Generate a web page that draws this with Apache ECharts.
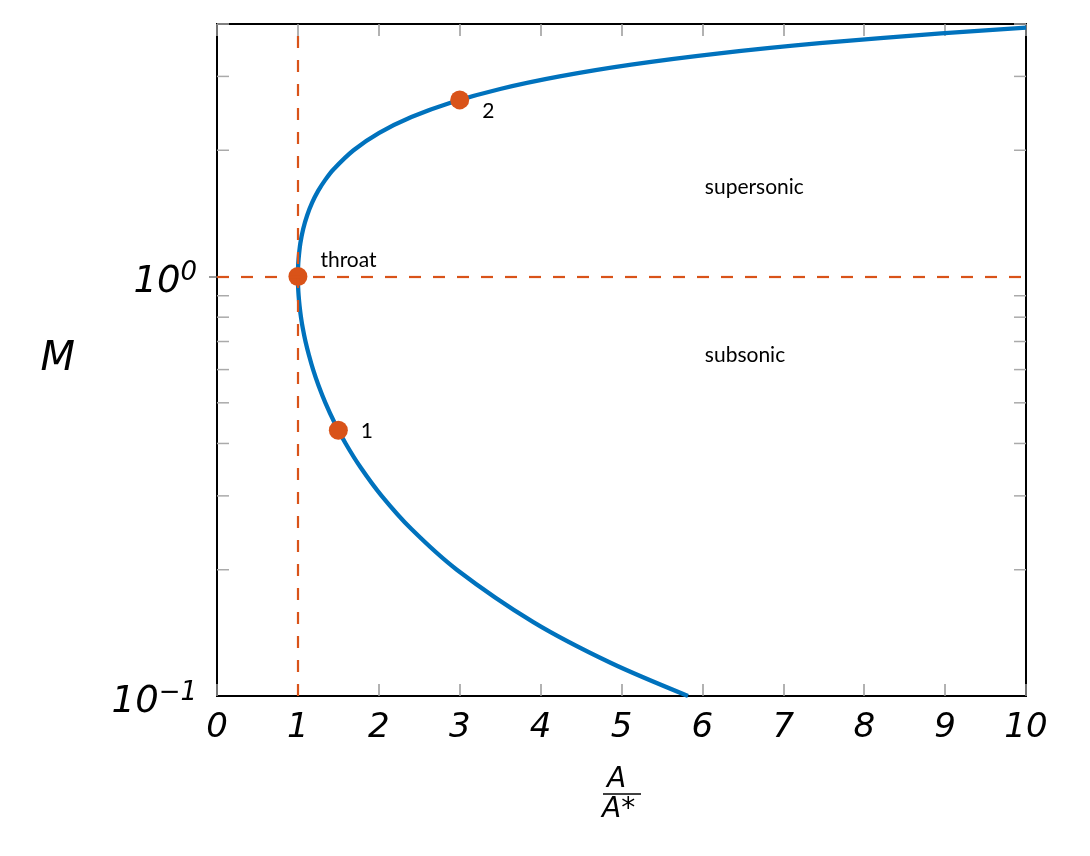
<!DOCTYPE html>
<html>
<head>
    <meta charset="UTF-8">
    <title>Area-Mach relation</title>
    <script src="https://cdn.jsdelivr.net/npm/echarts@6/dist/echarts.min.js"></script>
</head>
<body style="margin: 0; padding: 0;">
    <div id="container" style="width: 1090px; height: 856px;"></div>
    <script>
        // area ratio A/A* against Mach number (subsonic end -> throat -> supersonic end)
        var areaRatio = [5.822, 4.864, 3.910, 2.964, 2.403, 2.035, 1.778, 1.590, 1.449, 1.340,
            1.255, 1.188, 1.136, 1.094, 1.062, 1.038, 1.021, 1.009, 1.002, 1.000,
            1.002, 1.008, 1.030, 1.066, 1.115, 1.176, 1.250, 1.338, 1.439, 1.688,
            2.005, 2.403, 2.896, 3.500, 4.235, 5.121, 6.184, 7.450, 8.951, 10.0];
        var mach = [0.10, 0.12, 0.15, 0.20, 0.25, 0.30, 0.35, 0.40, 0.45, 0.50,
            0.55, 0.60, 0.65, 0.70, 0.75, 0.80, 0.85, 0.90, 0.95, 1.00,
            1.05, 1.10, 1.20, 1.30, 1.40, 1.50, 1.60, 1.70, 1.80, 2.00,
            2.20, 2.40, 2.60, 2.80, 3.00, 3.20, 3.40, 3.60, 3.80, 3.92];

        // marked states
        var pointNames = ['throat', '1', '2'];
        var pointX = [1, 1.5, 3];
        var pointY = [1, 0.43, 2.637];

        // region labels
        var regionNames = ['supersonic', 'subsonic'];
        var regionX = [6.03, 6.03];
        var regionY = [1.63, 0.651];

        var xTicks = [0, 1, 2, 3, 4, 5, 6, 7, 8, 9, 10];
        var yMajorTicks = [0.1, 1];
        var yMinorTicks = [0.2, 0.3, 0.4, 0.5, 0.6, 0.7, 0.8, 0.9, 2, 3, 4];

        var orange = '#D95319';
        var blue = '#0072BD';
        var tickFont = 'DejaVu Sans';

        var chart = echarts.init(document.getElementById('container'), null, { renderer: 'canvas' });

        var option = {
            backgroundColor: '#fff',
            animation: false,
            grid: {
                left: 217, top: 24, width: 809, height: 672,
                show: true, borderColor: '#000', borderWidth: 2, backgroundColor: 'transparent'
            },
            xAxis: [{
                type: 'value', min: xTicks[0], max: xTicks[xTicks.length - 1], interval: 1,
                axisLine: { show: false },
                splitLine: { show: false },
                axisTick: { inside: true, length: 12, lineStyle: { color: '#999', width: 1.5 } },
                axisLabel: {
                    margin: 15, fontSize: 34, fontStyle: 'italic', fontFamily: tickFont, color: '#000'
                }
            }, {
                type: 'value', position: 'top', min: xTicks[0], max: xTicks[xTicks.length - 1], interval: 1,
                axisLine: { show: false },
                splitLine: { show: false },
                axisTick: { inside: true, length: 12, lineStyle: { color: '#999', width: 1.5 } },
                axisLabel: { show: false }
            }],
            yAxis: [{
                type: 'log', logBase: 10, min: 0.1, max: 4,
                name: 'M', nameLocation: 'middle', nameRotate: 0, nameGap: 142,
                nameTextStyle: { fontSize: 40, fontStyle: 'italic', fontFamily: tickFont, color: '#000', padding: [12, 0, 0, 0] },
                axisLine: { show: false },
                splitLine: { show: false },
                minorTick: { show: false },
                axisTick: { inside: true, length: 8, customValues: [1], lineStyle: { color: '#777', width: 1.5 } },
                axisLabel: {
                    margin: 20, color: '#000',
                    padding: [12, 0, 0, 0],
                    customValues: yMajorTicks,
                    formatter: function (v) {
                        var p = Math.round(Math.log10(v));
                        return '{b|10}{s|' + (p < 0 ? '\u2212' + (-p) : p) + '}';
                    },
                    rich: {
                        b: { fontSize: 37, fontStyle: 'italic', fontFamily: tickFont, color: '#000', lineHeight: 44 },
                        s: { fontSize: 26, fontStyle: 'italic', fontFamily: tickFont, color: '#000', lineHeight: 26, verticalAlign: 'top' }
                    }
                }
            }, {
                type: 'log', logBase: 10, min: 0.1, max: 4, position: 'right',
                axisLine: { show: false },
                splitLine: { show: false },
                axisTick: { inside: true, length: 8, customValues: [1], lineStyle: { color: '#777', width: 1.5 } },
                axisLabel: { show: false }
            }],
            graphic: [
                { type: 'text', left: 607, top: 766, style: { text: 'A', fontSize: 28, fontStyle: 'italic', fontFamily: tickFont, fill: '#000' } },
                { type: 'line', shape: { x1: 603, y1: 794, x2: 641, y2: 794 }, style: { stroke: '#000', lineWidth: 1.5 } },
                { type: 'text', left: 602, top: 796, style: { text: 'A*', fontSize: 28, fontStyle: 'italic', fontFamily: tickFont, fill: '#000' } }
            ],
            series: [{
                // minor ticks of the log axis, on both sides of the box
                type: 'custom',
                silent: true,
                z: 1,
                data: yMinorTicks.map(function (v) { return [0, v]; }),
                renderItem: function (params, api) {
                    var y = api.coord([0, api.value(1)])[1];
                    var cs = params.coordSys;
                    var st = { stroke: '#aaa', lineWidth: 1.5 };
                    return {
                        type: 'group',
                        children: [
                            { type: 'line', shape: { x1: cs.x, y1: y, x2: cs.x + 12, y2: y }, style: st },
                            { type: 'line', shape: { x1: cs.x + cs.width - 12, y1: y, x2: cs.x + cs.width, y2: y }, style: st }
                        ]
                    };
                }
            }, {
                // throat guides
                type: 'line',
                data: [],
                z: 2,
                markLine: {
                    silent: true,
                    symbol: 'none',
                    label: { show: false },
                    lineStyle: { color: orange, type: [12, 12], width: 2.2, opacity: 1 },
                    data: [{ xAxis: 1 }, { yAxis: 1 }]
                }
            }, {
                type: 'line',
                name: 'M',
                data: areaRatio.map(function (a, i) { return [a, mach[i]]; }),
                showSymbol: false,
                smooth: 0.3,
                clip: true,
                z: 3,
                lineStyle: { color: blue, width: 4.3 }
            }, {
                type: 'scatter',
                z: 4,
                symbolSize: 19,
                itemStyle: { color: orange, opacity: 1 },
                data: pointNames.map(function (n, i) { return { name: n, value: [pointX[i], pointY[i]] }; }),
                label: {
                    show: true,
                    position: 'right',
                    distance: 13,
                    fontSize: 21,
                    fontFamily: 'Lato',
                    color: '#000',
                    formatter: '{b}'
                },
                labelLayout: function (params) {
                    var dy = [-16, 1, 11][params.dataIndex];
                    return { dy: dy };
                }
            }, {
                type: 'scatter',
                z: 4,
                symbolSize: 0,
                silent: true,
                itemStyle: { opacity: 1 },
                data: regionNames.map(function (n, i) { return { name: n, value: [regionX[i], regionY[i]] }; }),
                label: {
                    show: true,
                    position: 'right',
                    distance: 0,
                    fontSize: 21,
                    fontFamily: 'Lato',
                    color: '#000',
                    formatter: '{b}'
                }
            }]
        };
        chart.setOption(option);
    </script>
</body>
</html>
